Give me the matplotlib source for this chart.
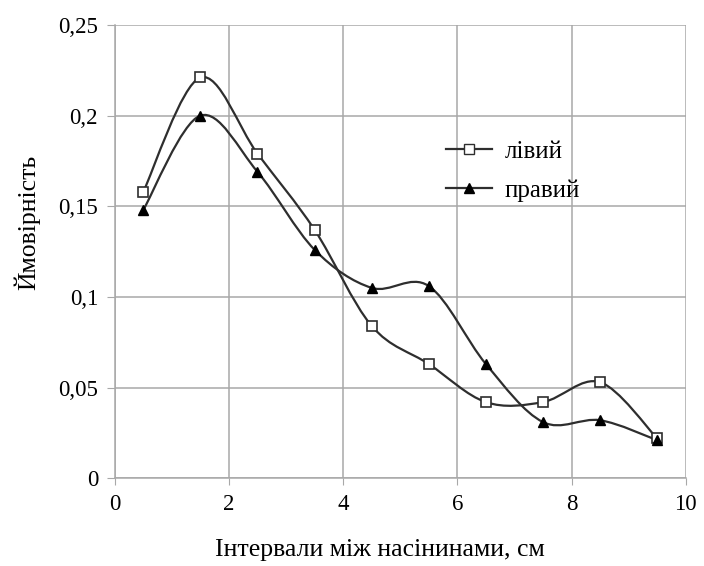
import matplotlib
matplotlib.use('Agg')
import matplotlib.pyplot as plt
from matplotlib.path import Path
from matplotlib.patches import PathPatch
from matplotlib.lines import Line2D
from matplotlib.ticker import FuncFormatter, MultipleLocator
import numpy as np

plt.rcParams['font.family'] = ['Liberation Serif', 'DejaVu Serif']

# interval midpoints, cm
x = [0.5, 1.5, 2.5, 3.5, 4.5, 5.5, 6.5, 7.5, 8.5, 9.5]
left = [0.158, 0.221, 0.179, 0.137, 0.084, 0.063, 0.042, 0.042, 0.053, 0.022]
right = [0.148, 0.200, 0.169, 0.126, 0.105, 0.106, 0.063, 0.031, 0.032, 0.021]

line_color = '#2e2e2e'
grid_color = '#a8a8a8'


def smooth_path(xs, ys):
    # cubic bezier through the points, Excel-style smoothed line
    pts = np.column_stack([xs, ys])
    n = len(pts)
    verts = [pts[0]]
    codes = [Path.MOVETO]
    for i in range(n - 1):
        p0 = pts[i - 1] if i > 0 else pts[i]
        p1 = pts[i]
        p2 = pts[i + 1]
        p3 = pts[i + 2] if i + 2 < n else pts[i + 1]
        c1 = p1 + (p2 - p0) / 6
        c2 = p2 - (p3 - p1) / 6
        verts += [c1, c2, p2]
        codes += [Path.CURVE4] * 3
    return Path(verts, codes)


fig = plt.figure(figsize=(7.04, 5.66), dpi=100)
ax = fig.add_axes([0.163, 0.155, 0.811, 0.801])

for ys in (left, right):
    ax.add_patch(PathPatch(smooth_path(x, ys), fill=False, ec=line_color, lw=1.6, zorder=3))

ax.plot(x, left, ls='none', marker='s', ms=7.5, mfc='white', mec=line_color, mew=1.2, zorder=4)
ax.plot(x, right, ls='none', marker='^', ms=7, mfc='black', mec='black', zorder=4)

ax.set_xlim(0, 10)
ax.set_ylim(0, 0.25)
ax.xaxis.set_major_locator(MultipleLocator(2))
ax.yaxis.set_major_locator(MultipleLocator(0.05))
ax.yaxis.set_major_formatter(FuncFormatter(lambda v, p: ('%g' % round(v, 3)).replace('.', ',')))
ax.grid(True, color=grid_color, lw=1.1)
ax.set_axisbelow(True)
for s in ('top', 'right'):
    ax.spines[s].set_visible(False)
for s in ('left', 'bottom'):
    ax.spines[s].set_color(grid_color)
    ax.spines[s].set_linewidth(1.1)
ax.tick_params(axis='x', length=5, color=grid_color, labelsize=16.5, pad=6)
ax.tick_params(axis='y', length=6, color=grid_color, labelsize=16.5, pad=6)

ax.set_xlabel('Інтервали між насінинами, см', fontsize=18.5)
ax.xaxis.set_label_coords(0.464, -0.134)
ax.set_ylabel('Ймовірність', fontsize=18.5)
ax.yaxis.set_label_coords(-0.13, 0.565)

handles = [
    Line2D([], [], color=line_color, lw=1.6, marker='s', ms=7.5, mfc='white', mec=line_color),
    Line2D([], [], color=line_color, lw=1.6, marker='^', ms=7, mfc='black', mec='black'),
]
ax.legend(handles, ['лівий', 'правий'], loc='center left', bbox_to_anchor=(0.581, 0.678),
          frameon=False, fontsize=18, handlelength=1.84, handletextpad=0.5,
          labelspacing=0.65, borderpad=0, borderaxespad=0)

fig.savefig('out.png', dpi=100)
